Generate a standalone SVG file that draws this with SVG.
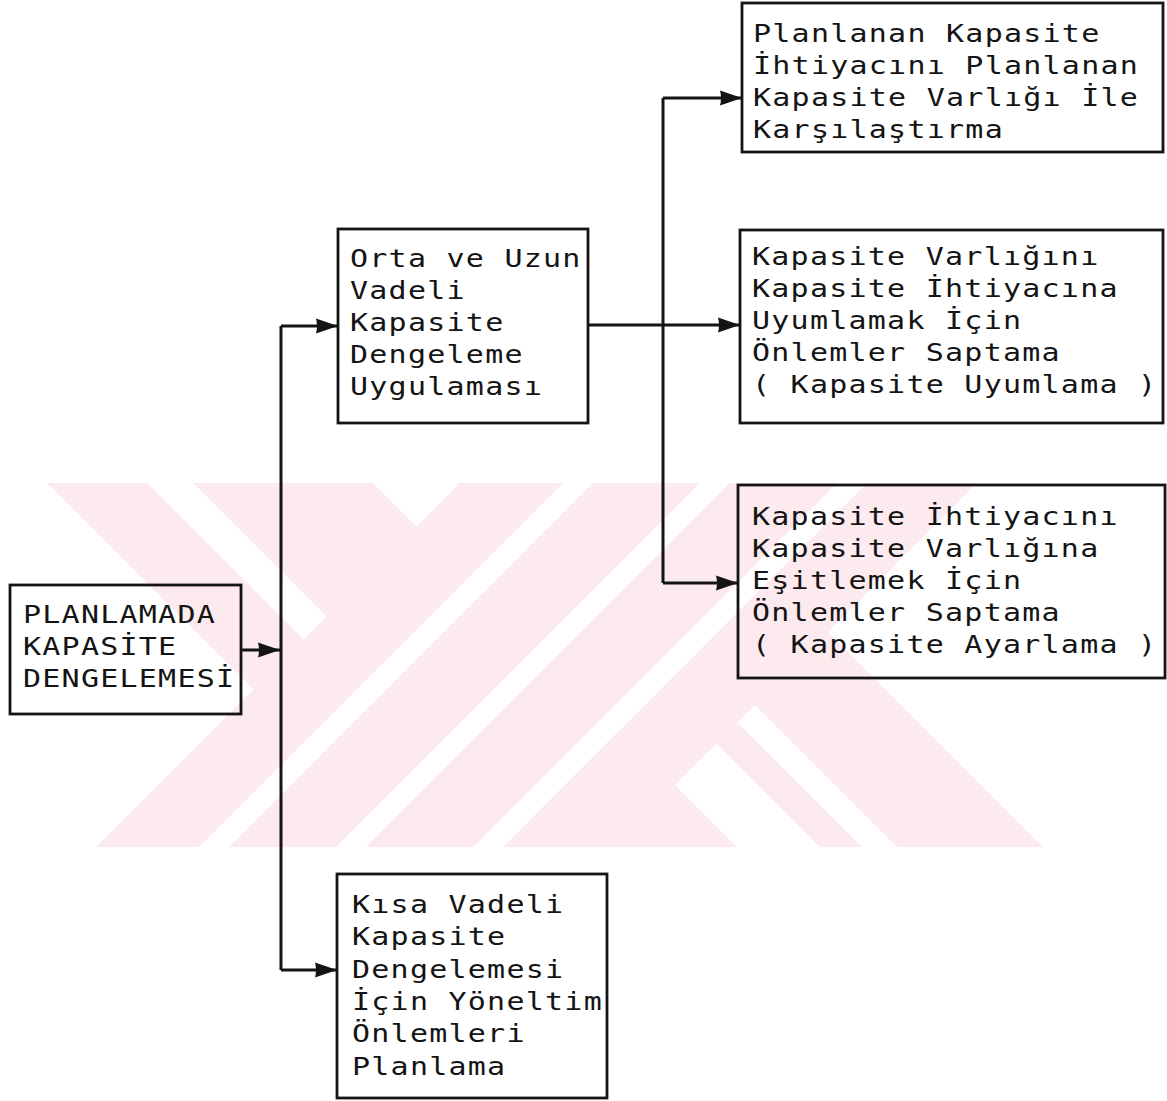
<svg xmlns="http://www.w3.org/2000/svg" width="1167" height="1101" viewBox="0 0 1167 1101">
<style>
.box{fill:none;stroke:#141414;stroke-width:2.8}
.t{font-family:"DejaVu Sans Mono","Liberation Mono",monospace;font-size:24px;letter-spacing:1px;fill:#141414}
.ln{fill:none;stroke:#141414;stroke-width:3}
.wm{fill:#fdeaee}
.wg{fill:#ffffff}
</style>
<defs>
<marker id="ah" markerUnits="userSpaceOnUse" markerWidth="24" markerHeight="18" refX="22" refY="9" orient="auto">
<path d="M0,1.5 L22,9 L0,16.5 Q2,9 0,1.5 z" fill="#141414"/>
</marker>
<clipPath id="wmclip"><rect x="0" y="483" width="1167" height="364"/></clipPath>
</defs>
<rect width="1167" height="1101" fill="#ffffff"/>
<g id="watermark" clip-path="url(#wmclip)">
<polygon class="wm" points="47,483 147,483 511,847 411,847"/>
<polygon class="wm" points="193,483 373,483 737,847 557,847"/>
<polygon class="wm" points="456,483 498,483 862,847 820,847"/>
<polygon class="wm" points="533,483 679,483 1043,847 897,847"/>
<polygon class="wg" points="563,483 593,483 229,847 199,847"/>
<polygon class="wg" points="700,483 730,483 366,847 336,847"/>
<polygon class="wg" points="837,483 867,483 503,847 473,847"/>
<polygon class="wm" points="460,483 563,483 199,847 96,847"/>
<polygon class="wm" points="593,483 700,483 336,847 229,847"/>
<polygon class="wm" points="730,483 837,483 473,847 366,847"/>
<polygon class="wm" points="867,483 977,483 613,847 503,847"/>
</g>
<g id="connectors">
<path class="ln" d="M281,326 V970"/>
<path class="ln" d="M663,98 V583"/>
<path class="ln" d="M242,650 H280" marker-end="url(#ah)"/>
<path class="ln" d="M281,326 H338" marker-end="url(#ah)"/>
<path class="ln" d="M281,970 H337" marker-end="url(#ah)"/>
<path class="ln" d="M588,325 H740" marker-end="url(#ah)"/>
<path class="ln" d="M663,98 H742" marker-end="url(#ah)"/>
<path class="ln" d="M663,583 H738" marker-end="url(#ah)"/>
</g>
<g id="n1">
<rect class="box" x="10" y="585" width="231" height="129"/>
<text class="t" transform="scale(1.25,1)"><tspan x="18.4" y="623">PLANLAMADA</tspan><tspan x="18.4" y="655">KAPASİTE</tspan><tspan x="18.4" y="687">DENGELEMESİ</tspan></text>
</g>
<g id="n2">
<rect class="box" x="338" y="229" width="250" height="194"/>
<text class="t" transform="scale(1.25,1)"><tspan x="280" y="267">Orta ve Uzun</tspan><tspan x="280" y="299">Vadeli</tspan><tspan x="280" y="331">Kapasite</tspan><tspan x="280" y="363">Dengeleme</tspan><tspan x="280" y="395">Uygulaması</tspan></text>
</g>
<g id="n3">
<rect class="box" x="742" y="3" width="421" height="149"/>
<text class="t" transform="scale(1.25,1)"><tspan x="602.4" y="42">Planlanan Kapasite</tspan><tspan x="602.4" y="74">İhtiyacını Planlanan</tspan><tspan x="602.4" y="106">Kapasite Varlığı İle</tspan><tspan x="602.4" y="138">Karşılaştırma</tspan></text>
</g>
<g id="n4">
<rect class="box" x="740" y="230" width="423" height="193"/>
<text class="t" transform="scale(1.25,1)"><tspan x="601.6" y="265">Kapasite Varlığını</tspan><tspan x="601.6" y="297">Kapasite İhtiyacına</tspan><tspan x="601.6" y="329">Uyumlamak İçin</tspan><tspan x="601.6" y="361">Önlemler Saptama</tspan><tspan x="601.6" y="393">( Kapasite Uyumlama )</tspan></text>
</g>
<g id="n5">
<rect class="box" x="738" y="485" width="427" height="193"/>
<text class="t" transform="scale(1.25,1)"><tspan x="601.6" y="525">Kapasite İhtiyacını</tspan><tspan x="601.6" y="557">Kapasite Varlığına</tspan><tspan x="601.6" y="589">Eşitlemek İçin</tspan><tspan x="601.6" y="621">Önlemler Saptama</tspan><tspan x="601.6" y="653">( Kapasite Ayarlama )</tspan></text>
</g>
<g id="n6">
<rect class="box" x="337" y="874" width="270" height="224"/>
<text class="t" transform="scale(1.25,1)"><tspan x="281.6" y="913">Kısa Vadeli</tspan><tspan x="281.6" y="945">Kapasite</tspan><tspan x="281.6" y="978">Dengelemesi</tspan><tspan x="281.6" y="1010">İçin Yöneltim</tspan><tspan x="281.6" y="1042">Önlemleri</tspan><tspan x="281.6" y="1075">Planlama</tspan></text>
</g>
</svg>
